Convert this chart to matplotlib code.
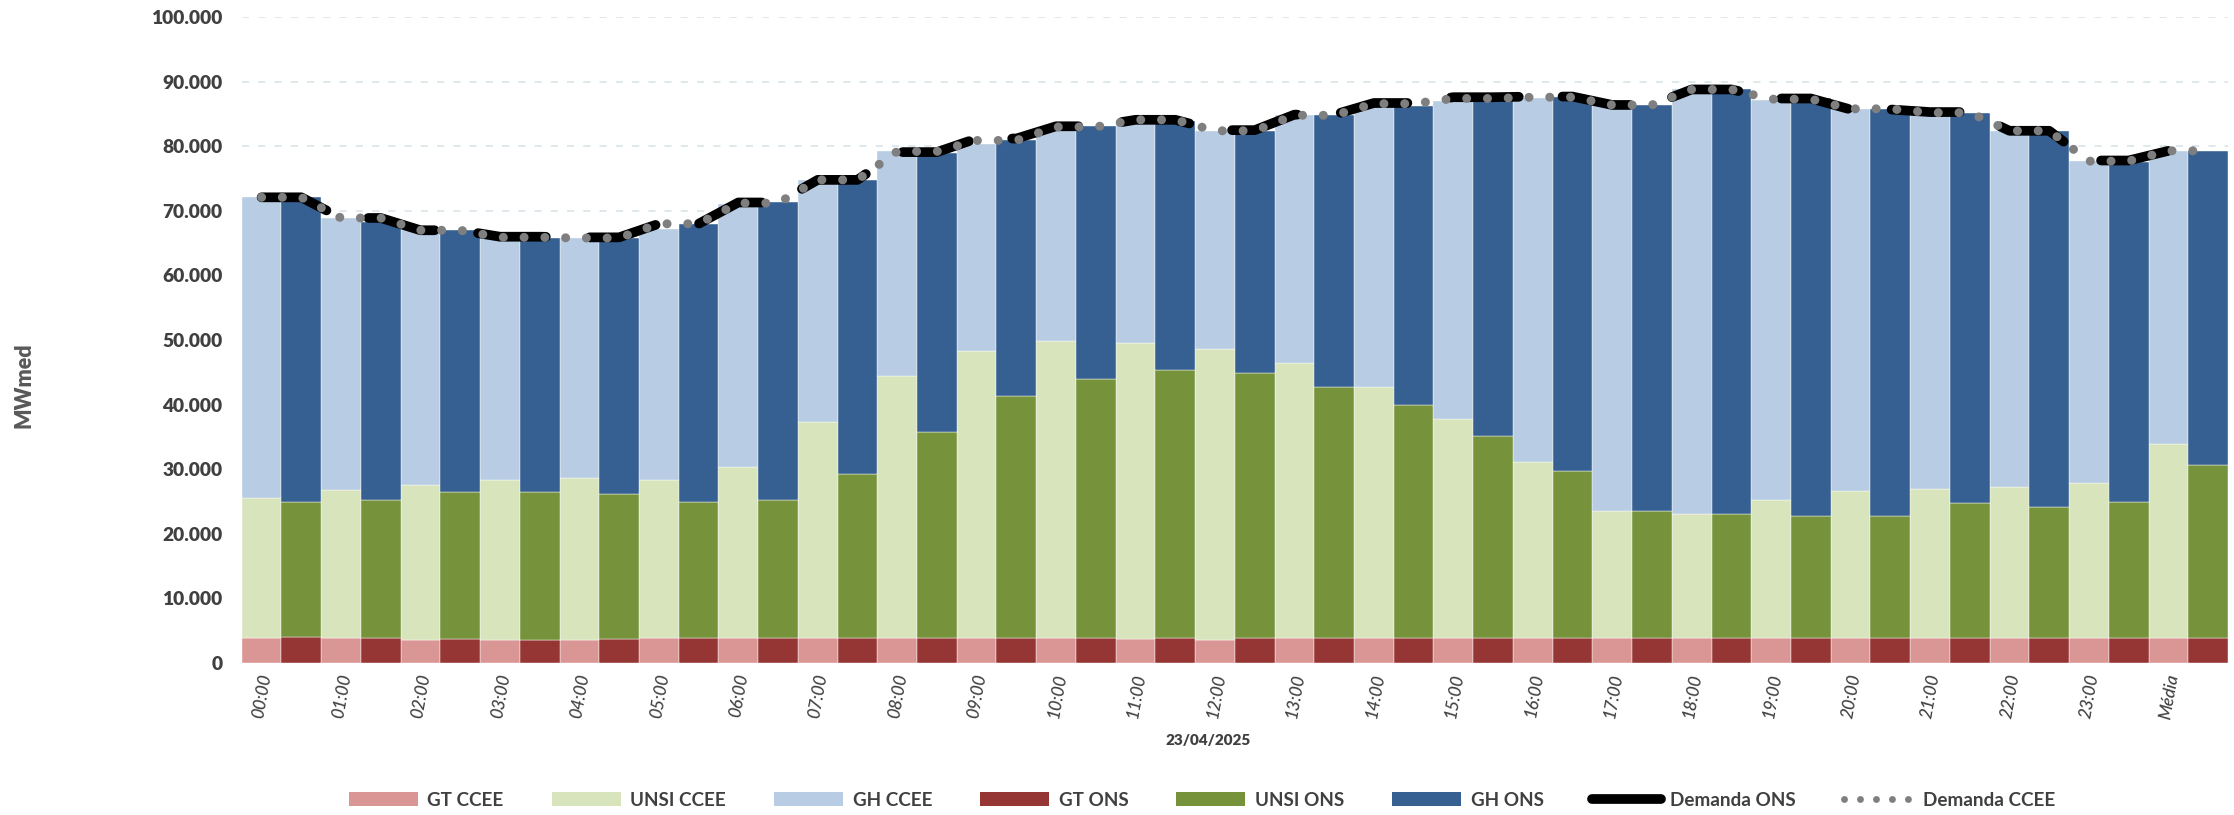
import matplotlib
matplotlib.use("Agg")
import matplotlib.pyplot as plt
from matplotlib.patches import Patch
from matplotlib.lines import Line2D
from matplotlib.ticker import FuncFormatter, MultipleLocator
import numpy as np

plt.rcParams['font.family'] = ['Lato', 'DejaVu Sans']

hours = ["00:00", "01:00", "02:00", "03:00", "04:00", "05:00", "06:00", "07:00",
         "08:00", "09:00", "10:00", "11:00", "12:00", "13:00", "14:00", "15:00",
         "16:00", "17:00", "18:00", "19:00", "20:00", "21:00", "22:00", "23:00", "Média"]

# Geração térmica (MWmed)
gt_ccee = [3900, 3800, 3600, 3600, 3600, 3800, 3800, 3800, 3800, 3800, 3800, 3700, 3600,
           3800, 3800, 3800, 3800, 3800, 3800, 3800, 3800, 3800, 3800, 3800, 3800]
gt_ons = [4000, 3800, 3700, 3600, 3700, 3800, 3800, 3800, 3800, 3800, 3800, 3800, 3800,
          3800, 3800, 3800, 3800, 3800, 3800, 3800, 3800, 3900, 3900, 3900, 3800]

# Usinas não simuladas individualmente (MWmed)
unsi_ccee = [21700, 23000, 24000, 24700, 25000, 24600, 26500, 33500, 40600, 44500, 46000,
             45800, 45000, 42600, 39000, 34000, 27300, 19800, 19200, 21400, 22800, 23200,
             23500, 24000, 30100]
unsi_ons = [21000, 21500, 22800, 22900, 22400, 21200, 21400, 25500, 32000, 37600, 40100,
            41500, 41100, 39000, 36100, 31400, 26000, 19700, 19200, 19000, 19000, 20800,
            20200, 21100, 26800]

# Geração hidráulica (MWmed)
gh_ccee = [46600, 42100, 39400, 37500, 37200, 38800, 40700, 37500, 34800, 32000, 33200,
           34600, 33700, 38400, 43800, 49200, 56400, 62800, 65800, 61900, 59200, 58100,
           55100, 49900, 45400]
gh_ons = [47200, 43000, 40500, 39300, 39700, 43000, 46100, 45500, 43200, 39600, 39200,
          38600, 37400, 42000, 46300, 52200, 57800, 62900, 65800, 64600, 63000, 60500,
          58300, 52600, 48700]

# Demanda (MWmed)
demanda_ons = [72100, 68900, 67000, 66000, 65900, 68000, 71300, 74800, 79100, 81200, 83100,
               84100, 82500, 84900, 86700, 87600, 87700, 86400, 88800, 87400, 85700, 85300,
               82400, 77800, 79300]
demanda_ccee = [72100, 68900, 67000, 65900, 65800, 68000, 71200, 74800, 79200, 80900, 83000,
                84100, 82400, 84800, 86600, 87400, 87600, 86400, 88800, 87300, 85800, 85200,
                82400, 77700, 79300]

c_gt_ccee, c_unsi_ccee, c_gh_ccee = "#DA9694", "#D8E4BC", "#B8CCE4"
c_gt_ons, c_unsi_ons, c_gh_ons = "#963634", "#76933C", "#366092"
text_color = "#404040"

fig = plt.figure(figsize=(22.34, 8.15), dpi=100)
ax = fig.add_axes([0.1082, 0.1865, 0.8891, 0.7925])

x = np.arange(len(hours))
w = 0.5
xc = x - w / 2
xo = x + w / 2

gt_ccee_a, unsi_ccee_a, gh_ccee_a = map(np.array, (gt_ccee, unsi_ccee, gh_ccee))
gt_ons_a, unsi_ons_a, gh_ons_a = map(np.array, (gt_ons, unsi_ons, gh_ons))

edge = dict(edgecolor="#FFFFFF", linewidth=0.3, zorder=2)
ax.bar(xc, gt_ccee_a, w, color=c_gt_ccee, **edge)
ax.bar(xc, unsi_ccee_a, w, bottom=gt_ccee_a, color=c_unsi_ccee, **edge)
ax.bar(xc, gh_ccee_a, w, bottom=gt_ccee_a + unsi_ccee_a, color=c_gh_ccee, **edge)
ax.bar(xo, gt_ons_a, w, color=c_gt_ons, **edge)
ax.bar(xo, unsi_ons_a, w, bottom=gt_ons_a, color=c_unsi_ons, **edge)
ax.bar(xo, gh_ons_a, w, bottom=gt_ons_a + unsi_ons_a, color=c_gh_ons, **edge)

# Demand lines span both bars of each hour
lx = np.column_stack([xc, xo]).ravel()
ly_ons = np.repeat(demanda_ons, 2)
ly_ccee = np.repeat(demanda_ccee, 2)
ax.plot(lx, ly_ons, color="black", lw=7, linestyle=(0, (7, 4.5)),
        dash_capstyle="round", solid_joinstyle="round", zorder=4)
ax.plot(lx, ly_ccee, color="#7F7F7F", lw=6.5, linestyle=(0, (0.001, 2.3)),
        dash_capstyle="round", zorder=5)

ax.set_xlim(-0.5, len(hours) - 0.5)
ax.set_ylim(0, 100000)
ax.yaxis.set_major_locator(MultipleLocator(10000))
ax.yaxis.set_major_formatter(FuncFormatter(
    lambda v, p: "0" if v == 0 else f"{int(v):,}".replace(",", ".")))
ax.grid(axis="y", color="#DCE6EA", linewidth=1.3, linestyle=(0, (4, 5)), zorder=0)
ax.set_axisbelow(True)
for s in ax.spines.values():
    s.set_visible(False)

ax.tick_params(axis="y", length=0, pad=14, labelsize=13.8, labelcolor=text_color)
for lab in ax.get_yticklabels():
    lab.set_fontweight("heavy")

ax.set_xticks(xc + 0.06)
ax.set_xticklabels(hours, rotation=80, ha="right", va="center",
                   rotation_mode="anchor", fontsize=12.5, style="italic",
                   fontweight="medium", color=text_color)
ax.tick_params(axis="x", length=0, pad=8)

fig.text(0.5407, 0.0908, "23/04/2025", ha="center", va="center",
         fontsize=11, fontweight="heavy", color=text_color)
fig.text(0.0107, 0.5276, "MWmed", ha="center", va="center", rotation=90,
         fontsize=15.5, fontweight="heavy", color="#595959")

handles = [
    Patch(facecolor=c_gt_ccee, label="GT CCEE"),
    Patch(facecolor=c_unsi_ccee, label="UNSI CCEE"),
    Patch(facecolor=c_gh_ccee, label="GH CCEE"),
    Patch(facecolor=c_gt_ons, label="GT ONS"),
    Patch(facecolor=c_unsi_ons, label="UNSI ONS"),
    Patch(facecolor=c_gh_ons, label="GH ONS"),
    Line2D([], [], color="black", lw=7, solid_capstyle="round", label="Demanda ONS"),
    Line2D([], [], color="#7F7F7F", lw=5, linestyle=(0, (0.001, 2.3)),
           dash_capstyle="round", label="Demanda CCEE"),
]
leg = fig.legend(handles=handles, loc="center", bbox_to_anchor=(0.538, 0.018),
                 ncol=8, frameon=False, fontsize=13.6, handlelength=3.65,
                 handleheight=0.78, handletextpad=0.5, columnspacing=2.55)
for t in leg.get_texts():
    t.set_color(text_color)
    t.set_fontweight("bold")

fig.savefig("out.png", dpi=100)
